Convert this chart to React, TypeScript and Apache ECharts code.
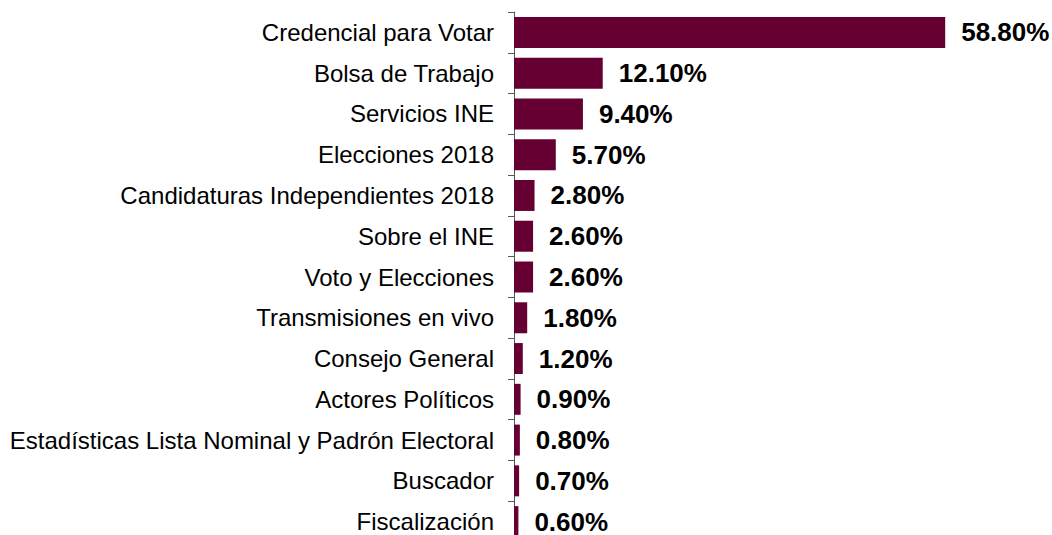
import React, { useEffect, useRef } from "react";
import * as echarts from "echarts";

const categories = [
  "Credencial para Votar",
  "Bolsa de Trabajo",
  "Servicios INE",
  "Elecciones 2018",
  "Candidaturas Independientes 2018",
  "Sobre el INE",
  "Voto y Elecciones",
  "Transmisiones en vivo",
  "Consejo General",
  "Actores Políticos",
  "Estadísticas Lista Nominal y Padrón Electoral",
  "Buscador",
  "Fiscalización",
];
const values = [58.8, 12.1, 9.4, 5.7, 2.8, 2.6, 2.6, 1.8, 1.2, 0.9, 0.8, 0.7, 0.6];

export default function App() {
  const ref = useRef<HTMLDivElement>(null);
  useEffect(() => {
    if (!ref.current) return;
    const chart = echarts.init(ref.current, null, { renderer: "svg" });
    chart.setOption({
      animation: false,
      grid: { left: 514, top: 12, width: 440, height: 530, containLabel: false },
      xAxis: { type: "value", min: 0, max: 60, show: false },
      yAxis: {
        type: "category",
        data: categories,
        inverse: true,
        axisLine: { show: true, lineStyle: { color: "#555", width: 1 } },
        axisTick: { show: true, length: 6, lineStyle: { color: "#555" } },
        axisLabel: {
          margin: 20,
          color: "#000",
          fontSize: 24,
          fontFamily: "Liberation Sans, Arial, sans-serif",
        },
      },
      series: [
        {
          type: "bar",
          data: values,
          barCategoryGap: "24%",
          itemStyle: { color: "#660033" },
          label: {
            show: true,
            position: "right",
            distance: 16,
            color: "#000",
            fontWeight: "bold",
            fontSize: 26,
            fontFamily: "Liberation Sans, Arial, sans-serif",
            formatter: (p: any) => p.value.toFixed(2) + "%",
          },
        },
      ],
    });
    return () => chart.dispose();
  }, []);
  return (
    <div
      ref={ref}
      style={{ position: "fixed", left: 0, top: 0, width: 1052, height: 548, background: "#fff" }}
    />
  );
}
